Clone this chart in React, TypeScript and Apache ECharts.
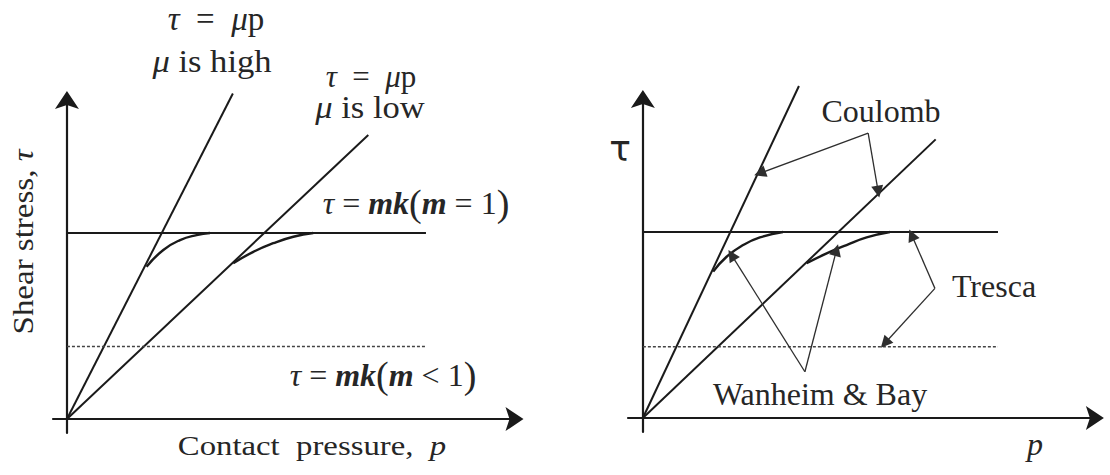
import React, { useEffect, useRef } from "react";
import * as echarts from "echarts";

// Friction models in shear stress (τ) vs contact pressure (p); τ = k is 1.

// Left panel: Coulomb lines for high and low μ, Tresca limits, Wanheim & Bay blends
const leftCoulombHigh = [[0, 0], [0.892, 1.75]];
const leftCoulombLow = [[0, 0], [1.62, 1.527]];
const leftTrescaFull = [[0, 1], [1.93, 1]];
const leftTrescaPartial = [[0, 0.39], [1.925, 0.39]];
const leftWanheimHigh = [[0.428, 0.819], [0.518, 0.909], [0.608, 0.962], [0.697, 0.989], [0.769, 1.0]];
const leftWanheimLow = [[0.894, 0.837], [1.002, 0.899], [1.109, 0.945], [1.217, 0.98], [1.324, 1.0]];

// Right panel: same models, with leader arrows naming them
const rightCoulombHigh = [[0, 0], [0.839, 1.785]];
const rightCoulombLow = [[0, 0], [1.574, 1.498]];
const rightTrescaFull = [[0, 1], [1.909, 1]];
const rightTrescaPartial = [[0, 0.383], [1.909, 0.383]];
const rightWanheimHigh = [[0.378, 0.787], [0.45, 0.867], [0.539, 0.93], [0.629, 0.971], [0.753, 1.0]];
const rightWanheimLow = [[0.88, 0.832], [0.988, 0.885], [1.095, 0.93], [1.203, 0.971], [1.328, 1.0]];

// Leader arrows: [label point, arrow tip]
const coulombLeaders = [
  [[1.211, 1.531], [0.629, 1.316]],
  [[1.211, 1.531], [1.265, 1.217]],
];
const trescaLeaders = [
  [[1.57, 0.697], [1.445, 0.984]],
  [[1.57, 0.697], [1.301, 0.402]],
];
const wanheimLeaders = [
  [[0.871, 0.249], [0.477, 0.876]],
  [[0.871, 0.249], [1.041, 0.903]],
];

// Axis extents [min, max]
const leftXRange = [-0.075, 2.406];
const leftYRange = [-0.075, 1.715];
const rightXRange = [-0.08, 2.43];
const rightYRange = [-0.075, 1.715];

const INK = "#1a1a1a";
const TEXT = "#262626";
const SERIF = "Liberation Serif";
const ARROW = "path://M12 0 L24 18 L12 14 L0 18 Z";

function axis(gridIndex: number, range: number[]) {
  return {
    type: "value" as const,
    gridIndex,
    min: range[0],
    max: range[1],
    axisLine: {
      show: true,
      onZero: true,
      symbol: ["none", ARROW],
      symbolSize: [24, 18],
      lineStyle: { color: INK, width: 2.2 },
    },
    axisTick: { show: false },
    axisLabel: { show: false },
    splitLine: { show: false },
  };
}

function curve(idx: number, data: number[][], opts: any = {}) {
  return {
    type: "line" as const,
    xAxisIndex: idx,
    yAxisIndex: idx,
    data,
    symbol: "none",
    showSymbol: false,
    clip: false,
    silent: true,
    lineStyle: { color: INK, width: 2, ...(opts.lineStyle || {}) },
    smooth: opts.smooth || false,
    z: 3,
  };
}

function leaders(data: number[][][]) {
  return {
    type: "lines" as const,
    coordinateSystem: "cartesian2d",
    xAxisIndex: 1,
    yAxisIndex: 1,
    symbol: ["none", "triangle"],
    symbolSize: 12,
    silent: true,
    lineStyle: { color: "#2e2e2e", width: 1.3, opacity: 1 },
    data: data.map((c) => ({ coords: c })),
    z: 4,
  };
}

const rich = (fs: number) => ({
  r: { fontFamily: SERIF, fontSize: fs, fontStyle: "normal", fill: TEXT },
  i: { fontFamily: SERIF, fontSize: fs, fontStyle: "italic", fill: TEXT },
  b: { fontFamily: SERIF, fontSize: fs, fontStyle: "italic", fontWeight: "bold", fill: TEXT },
  pr: { fontFamily: SERIF, fontSize: Math.round(fs * 1.18), fill: TEXT },
  s: { fontFamily: "DejaVu Sans", fontSize: fs, fill: TEXT },
});

function label(x: number, y: number, text: string, fs: number, extra: any = {}) {
  return {
    type: "text",
    x,
    y,
    scaleX: extra.scaleX ?? 1,
    rotation: extra.rotation ?? 0,
    silent: true,
    style: {
      text,
      fontFamily: SERIF,
      fontSize: fs,
      fill: TEXT,
      align: "center",
      verticalAlign: "middle",
      rich: rich(fs),
    },
  };
}

export default function App() {
  const ref = useRef<HTMLDivElement>(null);

  useEffect(() => {
    if (!ref.current) return;
    const chart = echarts.init(ref.current, undefined, { renderer: "svg" });
    const dashed = { lineStyle: { type: [3, 2], width: 1.5, color: "#444" } };
    const blend = { smooth: 0.5, lineStyle: { width: 2.4 } };
    chart.setOption({
      animation: false,
      backgroundColor: "#ffffff",
      grid: [
        { left: 53, top: 100, width: 461.5, height: 333 },
        { left: 628, top: 99, width: 466.9, height: 333 },
      ],
      xAxis: [axis(0, leftXRange), axis(1, rightXRange)],
      yAxis: [axis(0, leftYRange), axis(1, rightYRange)],
      series: [
        curve(0, leftCoulombHigh),
        curve(0, leftCoulombLow),
        curve(0, leftTrescaFull),
        curve(0, leftTrescaPartial, dashed),
        curve(0, leftWanheimHigh, blend),
        curve(0, leftWanheimLow, blend),
        curve(1, rightCoulombHigh),
        curve(1, rightCoulombLow),
        curve(1, rightTrescaFull),
        curve(1, rightTrescaPartial, dashed),
        curve(1, rightWanheimHigh, blend),
        curve(1, rightWanheimLow, blend),
        leaders(coulombLeaders),
        leaders(trescaLeaders),
        leaders(wanheimLeaders),
      ],
      graphic: [
        label(216, 19, "{i|τ}{r|\u2002=\u2002}{i|μ}{r|p}", 33),
        label(212, 61, "{i|μ}{r| is high}", 32, { scaleX: 1.08 }),
        label(371, 76, "{i|τ}{r|\u2002=\u2002}{i|μ}{r|p}", 31),
        label(370, 107, "{i|μ}{r| is low}", 32, { scaleX: 1.08 }),
        label(416, 203, "{i|τ}{r| = }{b|mk}{pr|(}{b|m}{r| = 1}{pr|)}", 32),
        label(383, 375, "{i|τ}{r| = }{b|mk}{pr|(}{b|m}{r| < 1}{pr|)}", 32),
        label(23, 242, "{r|Shear stress, }{i|τ}", 30, { rotation: Math.PI / 2, scaleX: 1.1 }),
        label(312, 446, "{r|Contact\u2002pressure,\u2002}{i|p}", 28, { scaleX: 1.17 }),
        label(620, 148, "{s|τ}", 36),
        label(881, 111, "{r|Coulomb}", 32),
        label(994, 286, "{r|Tresca}", 32),
        label(820, 394, "{r|Wanheim & Bay}", 32),
        label(1035, 444, "{i|p}", 32),
      ],
    });
    return () => chart.dispose();
  }, []);

  return (
    <div
      ref={ref}
      style={{ position: "fixed", left: 0, top: 0, width: 1110, height: 475, background: "#fff" }}
    />
  );
}
